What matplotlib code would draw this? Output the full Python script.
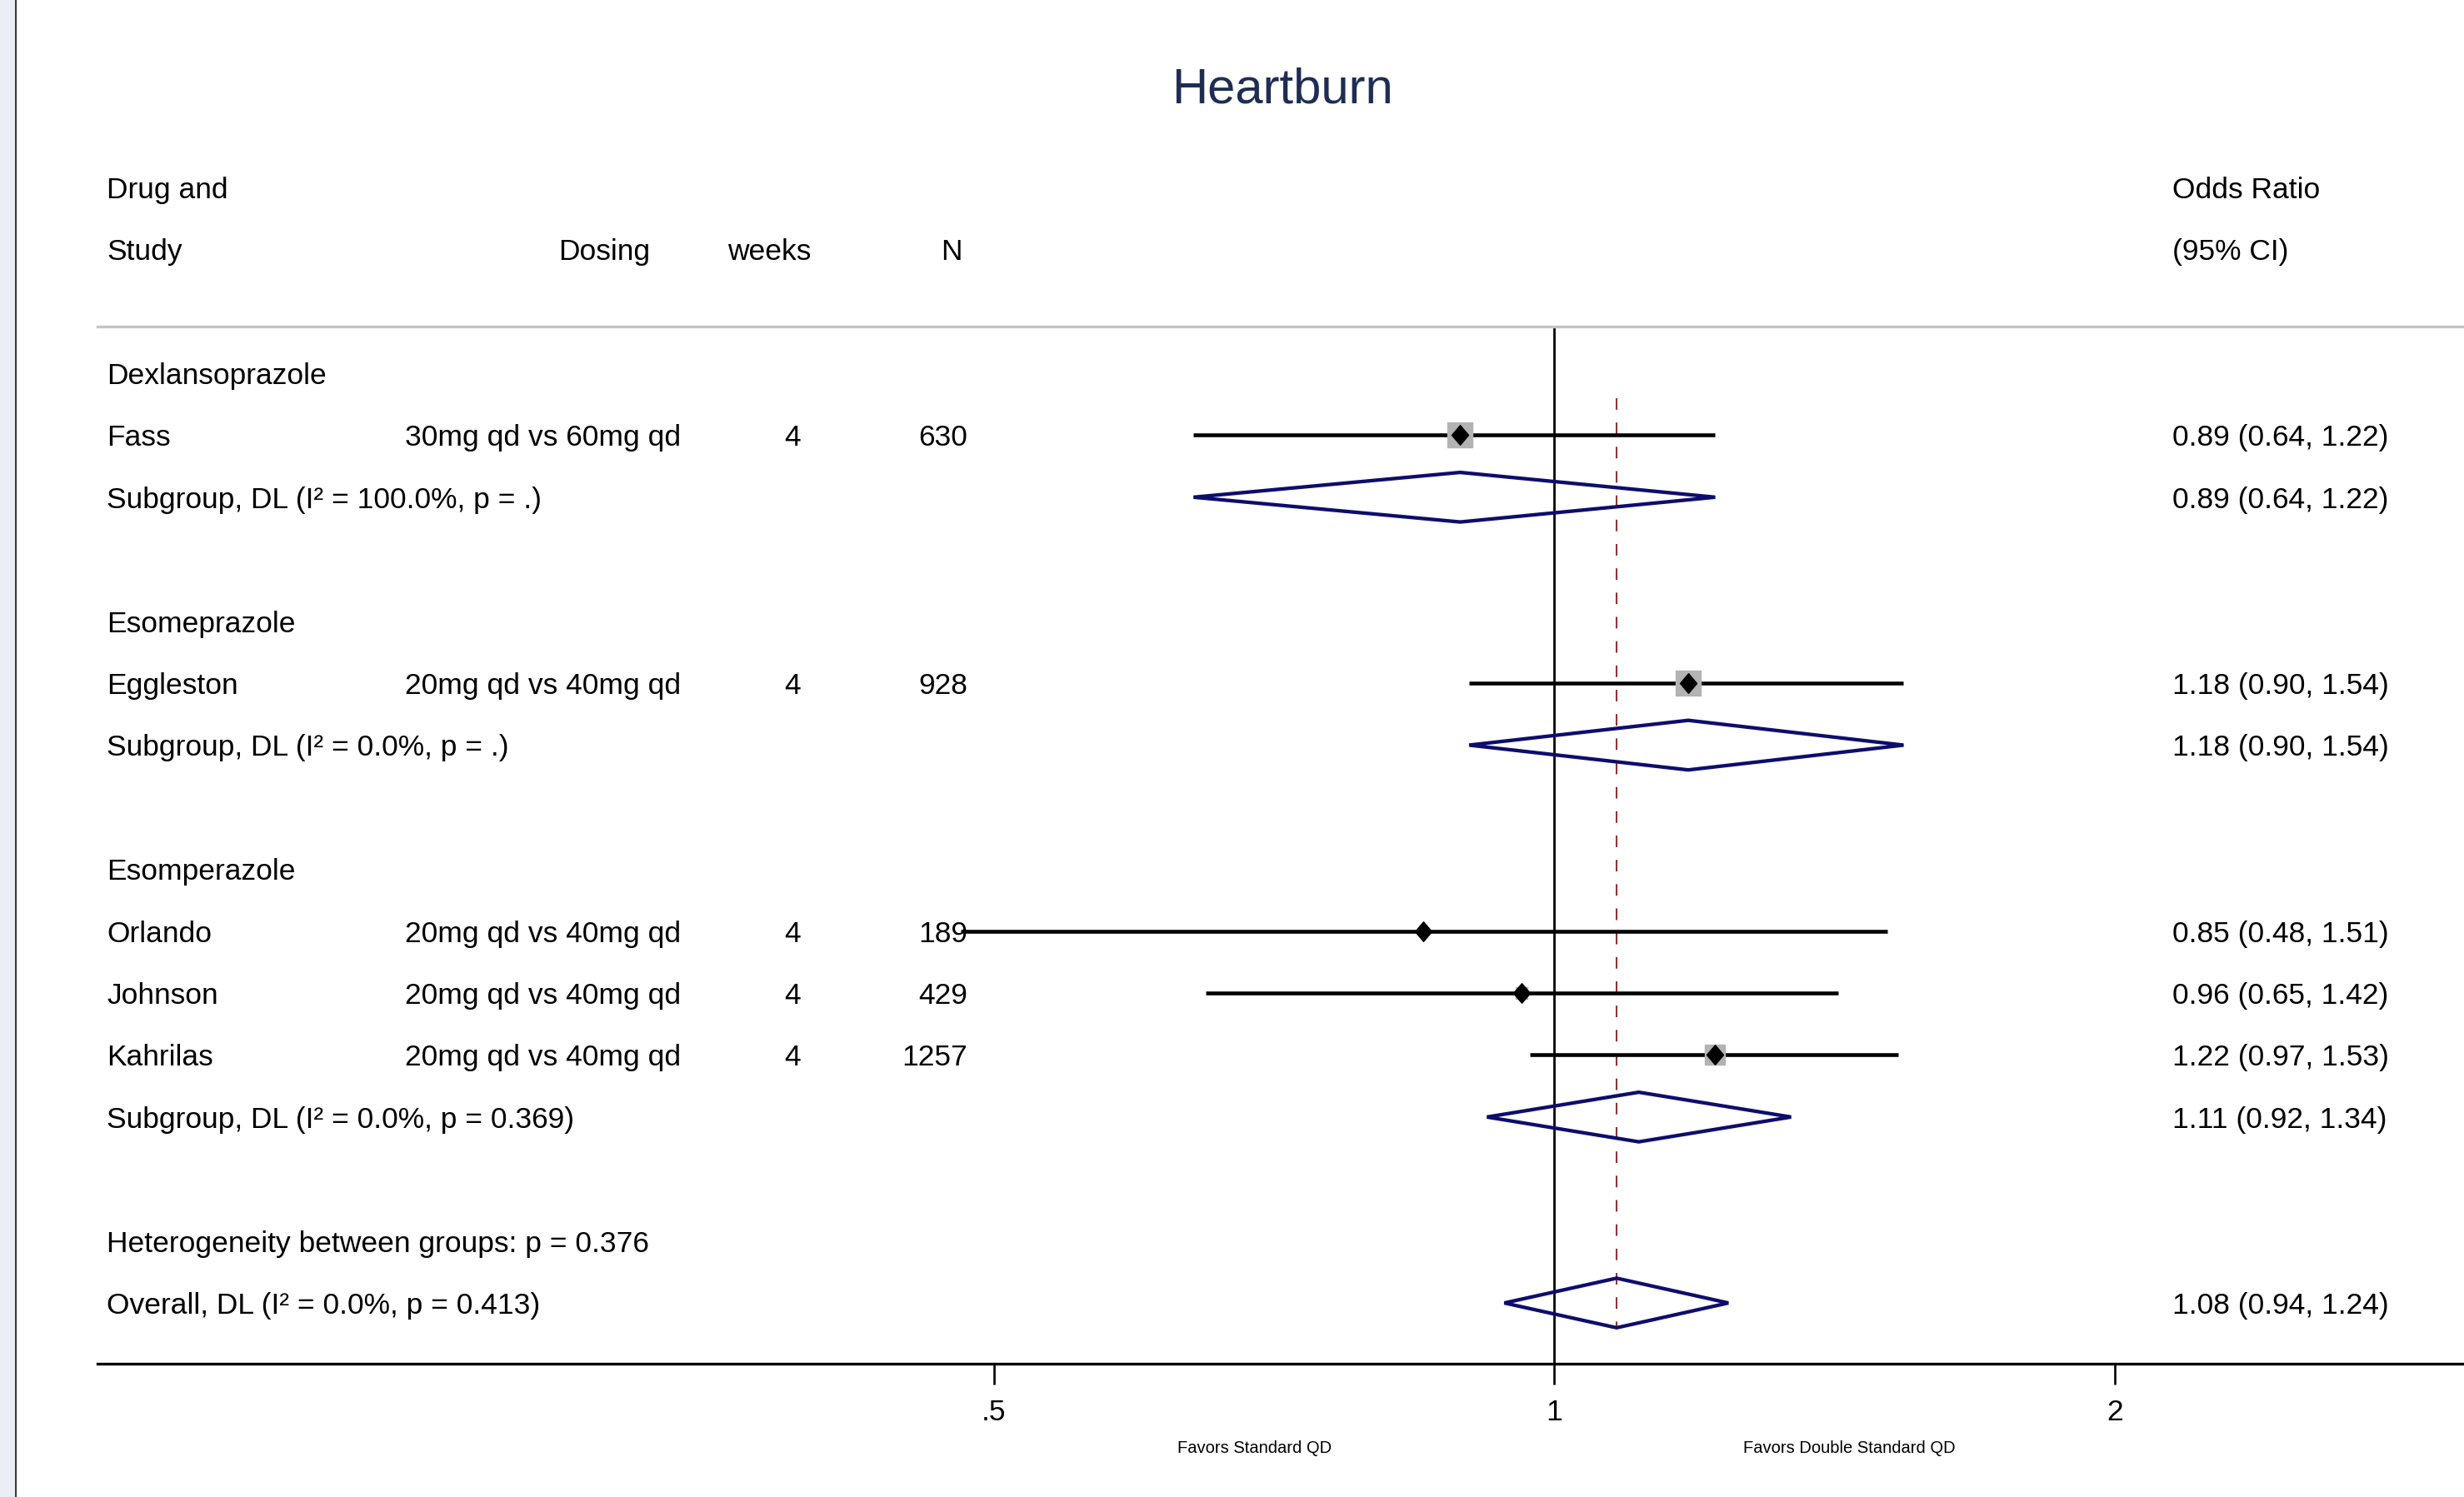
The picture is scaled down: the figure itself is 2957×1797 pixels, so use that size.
"""Forest plot of heartburn odds ratios, standard vs double standard PPI dosing."""

import matplotlib.pyplot as plt
from matplotlib.lines import Line2D
from matplotlib.patches import Polygon, Rectangle
from matplotlib.path import Path
from matplotlib.transforms import blended_transform_factory

plt.rcParams["font.family"] = ["Liberation Sans", "DejaVu Sans"]
plt.rcParams["lines.scale_dashes"] = False

TITLE = "Heartburn"

group_names = ["Dexlansoprazole", "Esomeprazole", "Esomperazole"]
study_names = ["Fass", "Eggleston", "Orlando", "Johnson", "Kahrilas"]
study_group = [0, 1, 2, 2, 2]
dosing = [
    "30mg qd vs 60mg qd",
    "20mg qd vs 40mg qd",
    "20mg qd vs 40mg qd",
    "20mg qd vs 40mg qd",
    "20mg qd vs 40mg qd",
]
weeks = [4, 4, 4, 4, 4]
n_patients = [630, 928, 189, 429, 1257]
study_or = [0.89, 1.18, 0.85, 0.96, 1.22]
study_lo = [0.64, 0.90, 0.48, 0.65, 0.97]
study_hi = [1.22, 1.54, 1.51, 1.42, 1.53]
study_weight = [100.0, 100.0, 10.5, 22.7, 66.8]  # % weight within subgroup

subgroup_labels = [
    "Subgroup, DL (I\u00b2 = 100.0%, p = .)",
    "Subgroup, DL (I\u00b2 = 0.0%, p = .)",
    "Subgroup, DL (I\u00b2 = 0.0%, p = 0.369)",
]
subgroup_or = [0.89, 1.18, 1.11]
subgroup_lo = [0.64, 0.90, 0.92]
subgroup_hi = [1.22, 1.54, 1.34]

heterogeneity_label = "Heterogeneity between groups: p = 0.376"
overall_label = "Overall, DL (I\u00b2 = 0.0%, p = 0.413)"
overall_or = 1.08
overall_lo = 0.94
overall_hi = 1.24

x_ticks = [0.5, 1, 2]
x_tick_labels = [".5", "1", "2"]
favours_labels = ["Favors Standard QD", "Favors Double Standard QD"]
favours_x = [0.69, 1.44]

# layout (pixels on a 2957 x 1797 canvas)
W, H = 2957, 1797
FS = 25.5
NAVY = "#0d0d6e"
COL_STUDY = 128
COL_DOSING = 486
COL_DOSING_HEAD = 670
COL_WEEKS = 941
COL_WEEKS_HEAD = 873
COL_N = 1161
COL_N_HEAD = 1155
COL_OR = 2607


def ci_text(est, lo, hi):
    return f"{est:.2f} ({lo:.2f}, {hi:.2f})"


def build_rows():
    """Assign a table row to every line of the plot."""
    rows = {"group": [], "study": [], "subgroup": []}
    row = 1
    for g in range(len(group_names)):
        rows["group"].append(row)
        row += 1
        for i, grp in enumerate(study_group):
            if grp == g:
                rows["study"].append(row)
                row += 1
        rows["subgroup"].append(row)
        row += 2
    rows["het"] = row
    rows["overall"] = row + 1
    return rows


def main():
    rows = build_rows()
    fig = plt.figure(figsize=(W / 100, H / 100), dpi=100)
    fig.patch.set_facecolor("white")

    # left window strip
    fig.add_artist(Rectangle((0, 0), 17 / W, 1, transform=fig.transFigure,
                             facecolor="#e9eef7", edgecolor="none"))
    fig.add_artist(Line2D([18.5 / W] * 2, [0, 1], transform=fig.transFigure,
                          color="#3a3a3a", lw=1.6))

    ax = fig.add_axes([117 / W, 1 - 1637 / H, (W - 117) / W, (1637 - 392) / H])
    ax.set_xscale("log")
    ax.set_xlim(0.165, 3.08)
    ax.set_ylim(16.98, 0.247)
    ax.minorticks_off()
    for side in ["left", "right"]:
        ax.spines[side].set_visible(False)
    ax.spines["top"].set_color("#c4c4c4")
    ax.spines["top"].set_linewidth(2.4)
    ax.spines["bottom"].set_linewidth(2.4)
    ax.set_yticks([])
    ax.set_xticks(x_ticks)
    ax.set_xticklabels(x_tick_labels, fontsize=FS)
    ax.tick_params(axis="x", direction="out", length=18, width=1.9, pad=12)
    ax.tick_params(axis="x", which="minor", bottom=False)

    # no-effect line and overall estimate line
    ax.axvline(1, color="black", lw=2.0, zorder=2)
    half_h = 0.4
    ax.plot([overall_or, overall_or],
            [rows["study"][0] - 0.6, rows["overall"] + half_h],
            color="#8c3535", lw=1.5, dashes=(10, 11), zorder=2)

    # study estimates
    diamond = Path([(0, 1), (0.85, 0), (0, -1), (-0.85, 0), (0, 1)],
                   [Path.MOVETO, Path.LINETO, Path.LINETO, Path.LINETO, Path.CLOSEPOLY])
    for i, r in enumerate(rows["study"]):
        ax.plot([study_lo[i], study_hi[i]], [r, r], color="black", lw=3.3,
                solid_capstyle="butt", zorder=3, clip_on=False)
        ax.plot(study_or[i], r, marker="s", ls="none", color="#b3b3b3",
                markersize=21.6 * (study_weight[i] / 100) ** 0.5, zorder=4)
        ax.plot(study_or[i], r, marker=diamond, ls="none", color="black",
                markersize=17, zorder=5)

    # pooled diamonds
    pooled = list(zip(rows["subgroup"], subgroup_or, subgroup_lo, subgroup_hi))
    pooled.append((rows["overall"], overall_or, overall_lo, overall_hi))
    for r, est, lo, hi in pooled:
        ax.add_patch(Polygon([(lo, r), (est, r - half_h), (hi, r), (est, r + half_h)],
                             closed=True, fill=False, edgecolor=NAVY, lw=3.1,
                             joinstyle="miter", zorder=4))

    # table text
    tx = lambda px: px / W
    trans = blended_transform_factory(fig.transFigure, ax.transData)
    txt = dict(transform=trans, fontsize=FS, va="center_baseline", clip_on=False)

    ax.text(tx(COL_STUDY), -2, "Drug and", **txt)
    ax.text(tx(COL_STUDY), -1, "Study", **txt)
    ax.text(tx(COL_DOSING_HEAD), -1, "Dosing", **txt)
    ax.text(tx(COL_WEEKS_HEAD), -1, "weeks", **txt)
    ax.text(tx(COL_N_HEAD), -1, "N", ha="right", **txt)
    ax.text(tx(COL_OR), -2, "Odds Ratio", **txt)
    ax.text(tx(COL_OR), -1, "(95% CI)", **txt)

    for g, r in enumerate(rows["group"]):
        ax.text(tx(COL_STUDY), r, group_names[g], **txt)
    for i, r in enumerate(rows["study"]):
        ax.text(tx(COL_STUDY), r, study_names[i], **txt)
        ax.text(tx(COL_DOSING), r, dosing[i], **txt)
        ax.text(tx(COL_WEEKS), r, str(weeks[i]), **txt)
        ax.text(tx(COL_N), r, str(n_patients[i]), ha="right", **txt)
        ax.text(tx(COL_OR), r, ci_text(study_or[i], study_lo[i], study_hi[i]), **txt)
    for g, r in enumerate(rows["subgroup"]):
        ax.text(tx(COL_STUDY), r, subgroup_labels[g], **txt)
        ax.text(tx(COL_OR), r, ci_text(subgroup_or[g], subgroup_lo[g], subgroup_hi[g]), **txt)
    ax.text(tx(COL_STUDY), rows["het"], heterogeneity_label, **txt)
    ax.text(tx(COL_STUDY), rows["overall"], overall_label, **txt)
    ax.text(tx(COL_OR), rows["overall"], ci_text(overall_or, overall_lo, overall_hi), **txt)

    fav_trans = blended_transform_factory(ax.transData, fig.transFigure)
    for x, label in zip(favours_x, favours_labels):
        ax.text(x, 1 - 1737 / H, label, transform=fav_trans, fontsize=14.5,
                ha="center", va="center_baseline")

    fig.text(1539 / W, 1 - 102 / H, TITLE, fontsize=43, color="#1f2d53",
             ha="center", va="center_baseline")

    fig.savefig("out.png", dpi=100)
    plt.close(fig)


if __name__ == "__main__":
    main()
